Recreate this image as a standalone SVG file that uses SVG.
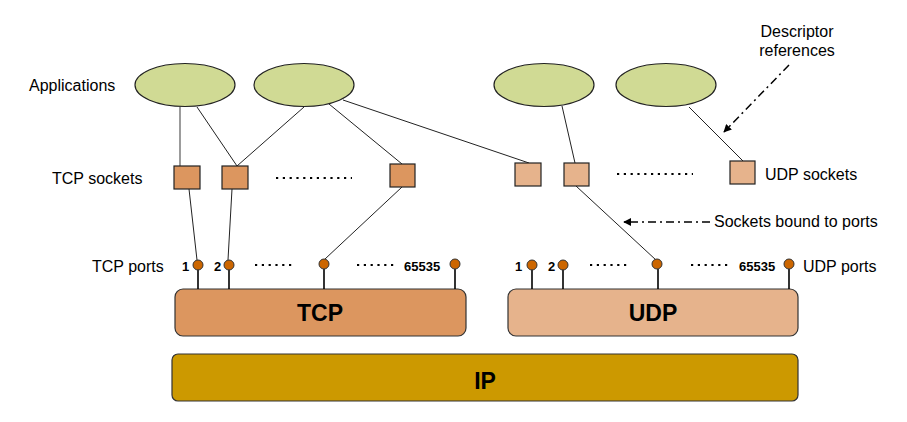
<svg xmlns="http://www.w3.org/2000/svg" width="907" height="422" viewBox="0 0 907 422">
<style>
.app{fill:#d0da94;stroke:#222;stroke-width:1.2}
.ts{fill:#dc965f;stroke:#222;stroke-width:1.2}
.us{fill:#e6b38c;stroke:#222;stroke-width:1.2}
.port{fill:#cc6600;stroke:#333;stroke-width:1}
.stem{stroke:#000;stroke-width:1.6}
.ln{stroke:#222;stroke-width:1;fill:none}
.lbl{font-family:"Liberation Sans",Arial,sans-serif;font-size:16px;fill:#000}
.num{font-family:"Liberation Sans",Arial,sans-serif;font-size:13px;font-weight:bold;fill:#000}
.big{font-family:"Liberation Sans",Arial,sans-serif;font-size:23px;font-weight:bold;fill:#000;text-anchor:middle}
.dots{stroke:#000;stroke-width:2.2;stroke-dasharray:2.2 4.6;fill:none}
.dd{stroke:#000;stroke-width:1.5;stroke-dasharray:8 4 2 4;fill:none}
</style>
<defs>
<marker id="ah" viewBox="0 0 10 10" refX="9" refY="5" markerWidth="8" markerHeight="8" markerUnits="userSpaceOnUse" orient="auto">
<path d="M0,0 L10,5 L0,10 z" fill="#000"/>
</marker>
</defs>

<g id="labels">
<text class="lbl" x="29" y="91">Applications</text>
<text class="lbl" x="52" y="184">TCP sockets</text>
<text class="lbl" x="765" y="180">UDP sockets</text>
<text class="lbl" x="92" y="272">TCP ports</text>
<text class="lbl" x="803" y="272">UDP ports</text>
<text class="lbl" x="797" y="37" text-anchor="middle">Descriptor</text>
<text class="lbl" x="797" y="56" text-anchor="middle">references</text>
<text class="lbl" x="714" y="227">Sockets bound to ports</text>
</g>

<g id="connectors">
<line x1="180" y1="107" x2="180" y2="166" stroke="#666" stroke-width="1.3"/>
<line class="ln" x1="197" y1="107" x2="237" y2="166"/>
<line class="ln" x1="304" y1="107" x2="237" y2="166"/>
<line class="ln" x1="329" y1="104" x2="402" y2="164"/>
<line class="ln" x1="343" y1="100" x2="529" y2="163"/>
<line class="ln" x1="562" y1="106" x2="575" y2="163"/>
<line class="ln" x1="689" y1="107" x2="743" y2="161"/>
<line class="ln" x1="189" y1="189" x2="197" y2="260"/>
<line class="ln" x1="232" y1="189" x2="228" y2="260"/>
<line class="ln" x1="402" y1="187" x2="325" y2="259"/>
<line class="ln" x1="576" y1="186" x2="656" y2="260"/>
<path class="dd" d="M789,65 L724,132" marker-end="url(#ah)"/>
<path class="dd" d="M710,222 L624,222" marker-end="url(#ah)"/>
<line class="dots" x1="276" y1="178" x2="352" y2="178"/>
<line class="dots" x1="617" y1="174" x2="693" y2="174"/>
<line class="dots" x1="255" y1="265" x2="292" y2="265"/>
<line class="dots" x1="357" y1="265" x2="394" y2="265"/>
<line class="dots" x1="590" y1="265" x2="627" y2="265"/>
<line class="dots" x1="691" y1="265" x2="728" y2="265"/>
</g>

<g id="app1"><ellipse class="app" cx="185" cy="85" rx="50" ry="21.5"/></g>
<g id="app2"><ellipse class="app" cx="304" cy="85" rx="50" ry="21.5"/></g>
<g id="app3"><ellipse class="app" cx="544" cy="85" rx="50" ry="21.5"/></g>
<g id="app4"><ellipse class="app" cx="666" cy="85" rx="50" ry="21.5"/></g>

<g id="tcp-socket1"><rect class="ts" x="174" y="166" width="26" height="23"/></g>
<g id="tcp-socket2"><rect class="ts" x="222" y="166" width="26" height="23"/></g>
<g id="tcp-socket3"><rect class="ts" x="390" y="164" width="25" height="23"/></g>
<g id="udp-socket1"><rect class="us" x="515" y="163" width="26" height="23"/></g>
<g id="udp-socket2"><rect class="us" x="564" y="163" width="25" height="23"/></g>
<g id="udp-socket3"><rect class="us" x="730" y="161" width="25" height="23"/></g>

<g id="tcp">
<rect x="175" y="289" width="291" height="47" rx="8" fill="#dc965f" stroke="#333" stroke-width="1.2"/>
<text class="big" x="320" y="321">TCP</text>
</g>
<g id="udp">
<rect x="508" y="289" width="290" height="47" rx="8" fill="#e6b38c" stroke="#333" stroke-width="1.2"/>
<text class="big" x="653" y="321">UDP</text>
</g>
<g id="ip">
<rect x="172" y="354" width="626" height="47" rx="6" fill="#cc9900" stroke="#333" stroke-width="1.2"/>
<text class="big" x="485" y="389">IP</text>
</g>

<g id="tcp-ports">
<line class="stem" x1="198" y1="269" x2="198" y2="289"/>
<line class="stem" x1="229" y1="269" x2="229" y2="289"/>
<line class="stem" x1="324" y1="269" x2="324" y2="289"/>
<line class="stem" x1="455" y1="269" x2="455" y2="289"/>
<circle class="port" cx="198" cy="265" r="5"/>
<circle class="port" cx="229" cy="265" r="5"/>
<circle class="port" cx="324" cy="264" r="5"/>
<circle class="port" cx="455" cy="264" r="5"/>
<text class="num" x="182" y="271">1</text>
<text class="num" x="214" y="271">2</text>
<text class="num" x="404" y="271">65535</text>
</g>
<g id="udp-ports">
<line class="stem" x1="532" y1="269" x2="532" y2="289"/>
<line class="stem" x1="563" y1="269" x2="563" y2="289"/>
<line class="stem" x1="658" y1="269" x2="658" y2="289"/>
<line class="stem" x1="789" y1="269" x2="789" y2="289"/>
<circle class="port" cx="532" cy="265" r="5"/>
<circle class="port" cx="563" cy="265" r="5"/>
<circle class="port" cx="657" cy="264" r="5"/>
<circle class="port" cx="789" cy="264" r="5"/>
<text class="num" x="515" y="271">1</text>
<text class="num" x="548" y="271">2</text>
<text class="num" x="739" y="271">65535</text>
</g>
</svg>
